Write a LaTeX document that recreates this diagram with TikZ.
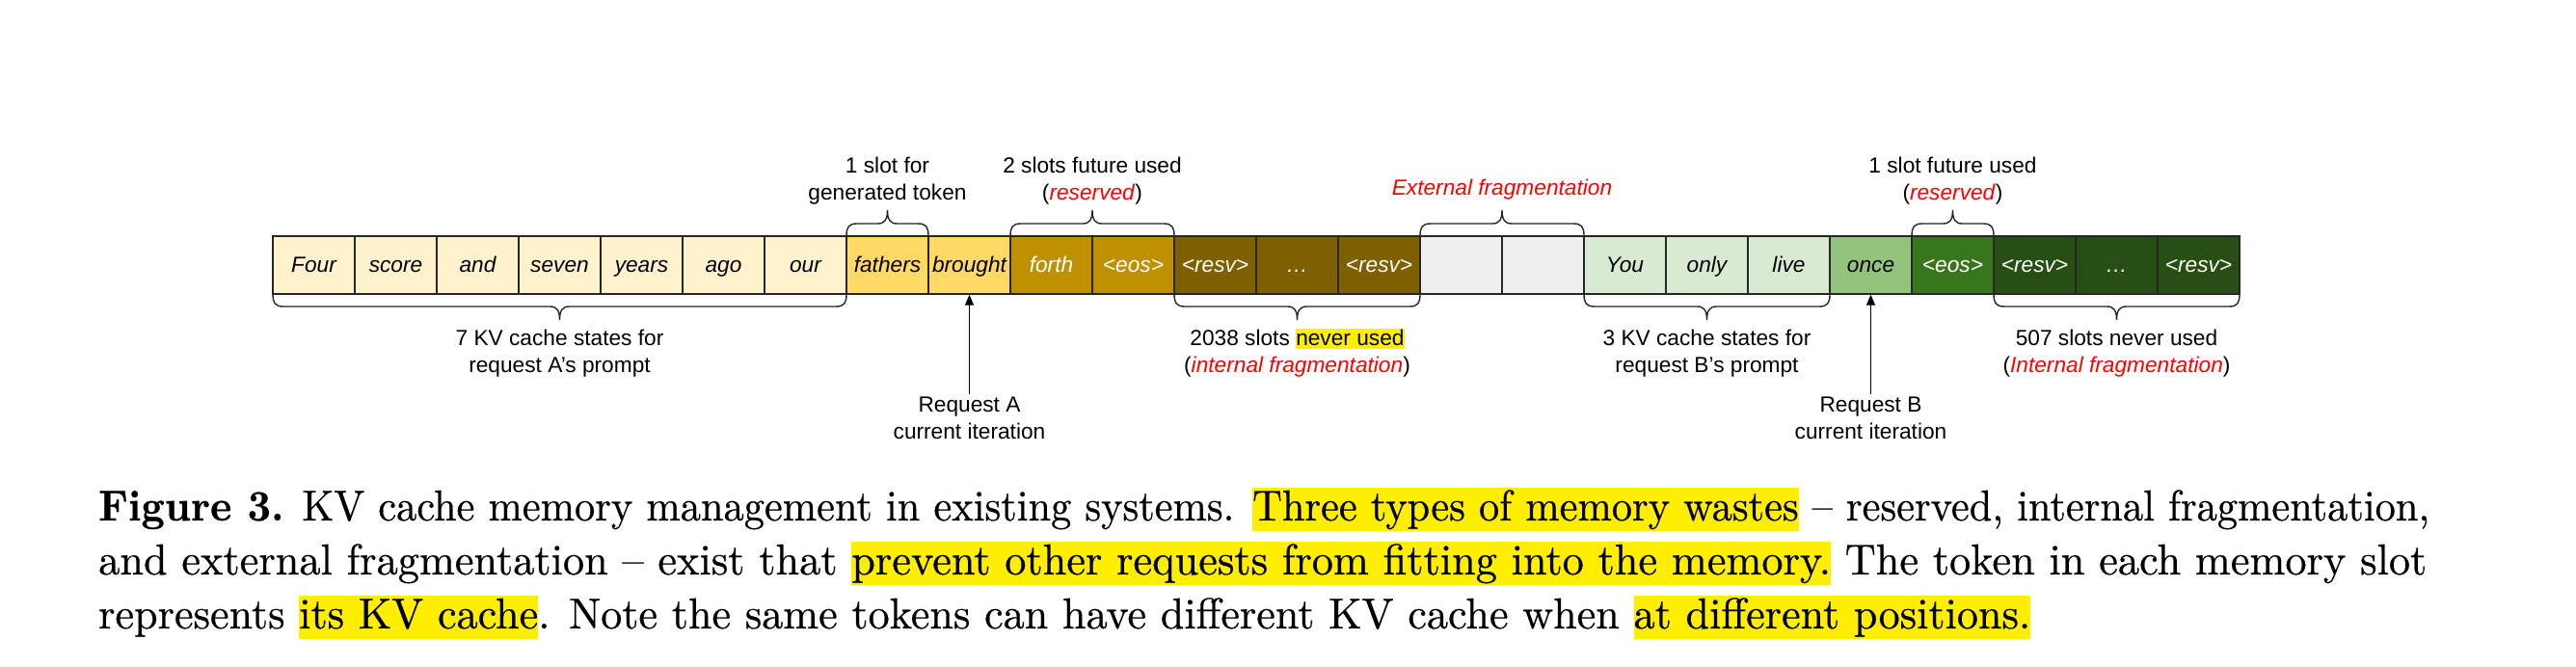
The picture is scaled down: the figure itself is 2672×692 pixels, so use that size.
\documentclass[tikz,border=0pt]{standalone}
\usepackage{fontspec}
\usepackage{graphicx}
\usetikzlibrary{arrows.meta}
\newfontfamily\arialf{Liberation Sans}
\newfontfamily\capf[FakeBold=0.5,BoldFont=lmroman10-bold.otf]{lmroman10-regular.otf}
\definecolor{pA}{HTML}{FFF2CC}
\definecolor{gA}{HTML}{FFD966}
\definecolor{rA}{HTML}{BF9000}
\definecolor{iA}{HTML}{7F6000}
\definecolor{ext}{HTML}{EFEFEF}
\definecolor{pB}{HTML}{D9EAD3}
\definecolor{gB}{HTML}{93C47D}
\definecolor{rB}{HTML}{38761D}
\definecolor{iB}{HTML}{274E13}
\definecolor{redtxt}{HTML}{FF0000}
\definecolor{hly}{HTML}{FFEE00}
\definecolor{edge}{HTML}{262626}
\newcommand\hlsm[1]{{\setlength\fboxsep{0pt}\colorbox{hly}{\rule[-3pt]{0pt}{21pt}#1}}}
\newcommand\hlcap[1]{{\setlength\fboxsep{0pt}\colorbox{hly}{\rule[-10.5pt]{0pt}{44.5pt}#1}}}
\newcommand\rdi[1]{\textcolor{redtxt}{\textit{#1}}}
\newcommand\twol[2]{\begin{tabular}[t]{@{}c@{}}#1\\#2\end{tabular}}
% brace above cells, from x1 to x2, base at box top (245)
\newcommand\upbr[2]{\draw[brc] (#1,245) .. controls (#1,236) and ({#1+2},232) .. ({#1+11},232) -- ({(#1+#2)/2-10},232) .. controls ({(#1+#2)/2-3},232) and ({(#1+#2)/2},228) .. ({(#1+#2)/2},218) .. controls ({(#1+#2)/2},228) and ({(#1+#2)/2+3},232) .. ({(#1+#2)/2+10},232) -- ({#2-11},232) .. controls ({#2-2},232) and (#2,236) .. (#2,245);}
% brace below cells, base at box bottom (305)
\newcommand\dnbr[2]{\draw[brc] (#1,305) .. controls (#1,314) and ({#1+2},318) .. ({#1+11},318) -- ({(#1+#2)/2-10},318) .. controls ({(#1+#2)/2-3},318) and ({(#1+#2)/2},322) .. ({(#1+#2)/2},332) .. controls ({(#1+#2)/2},322) and ({(#1+#2)/2+3},318) .. ({(#1+#2)/2+10},318) -- ({#2-11},318) .. controls ({#2-2},318) and (#2,314) .. (#2,305);}
\begin{document}
\begin{tikzpicture}[x=1pt,y=-1pt,
  cell/.style={draw=edge, line width=1.4pt, minimum width=85pt, minimum height=60pt, inner sep=0pt, text height=16pt, text depth=0pt, font={\arialf\fontsize{22.7}{27.5}\selectfont\itshape}},
  wcell/.style={cell, text=white},
  lbl/.style={inner sep=0pt, anchor=base, font={\arialf\fontsize{22.7}{27.5}\selectfont}},
  brc/.style={draw=edge, line width=1.4pt},
  reqarrow/.style={draw=black, line width=1.4pt, -{Triangle[width=9pt,length=11pt]}},
  capline/.style={inner sep=0pt, anchor=base west, font={\capf\fontsize{45}{56}\selectfont}}]
\fill[white] (0,0) rectangle (2672,692);
\useasboundingbox (0,0) rectangle (2672,692);
% cells
\node[cell, fill=pA] (c0) at (325.5,275) {Four};
\node[cell, fill=pA] (c1) at (410.5,275) {score};
\node[cell, fill=pA] (c2) at (495.5,275) {and};
\node[cell, fill=pA] (c3) at (580.5,275) {seven};
\node[cell, fill=pA] (c4) at (665.5,275) {years};
\node[cell, fill=pA] (c5) at (750.5,275) {ago};
\node[cell, fill=pA] (c6) at (835.5,275) {our};
\node[cell, fill=gA] (c7) at (920.5,275) {fathers};
\node[cell, fill=gA] (c8) at (1005.5,275) {brought};
\node[wcell, fill=rA] (c9) at (1090.5,275) {forth};
\node[wcell, fill=rA] (c10) at (1175.5,275) {<eos>};
\node[wcell, fill=iA] (c11) at (1260.5,275) {<resv>};
\node[wcell, fill=iA] (c12) at (1345.5,275) {…};
\node[wcell, fill=iA] (c13) at (1430.5,275) {<resv>};
\node[cell, fill=ext] (c14) at (1515.5,275) {};
\node[cell, fill=ext] (c15) at (1600.5,275) {};
\node[cell, fill=pB] (c16) at (1685.5,275) {You};
\node[cell, fill=pB] (c17) at (1770.5,275) {only};
\node[cell, fill=pB] (c18) at (1855.5,275) {live};
\node[cell, fill=gB] (c19) at (1940.5,275) {once};
\node[wcell, fill=rB] (c20) at (2025.5,275) {<eos>};
\node[wcell, fill=iB] (c21) at (2110.5,275) {<resv>};
\node[wcell, fill=iB] (c22) at (2195.5,275) {…};
\node[wcell, fill=iB] (c23) at (2280.5,275) {<resv>};
% braces
\upbr{878}{963}
\upbr{1048}{1218}
\upbr{1473}{1643}
\upbr{1983}{2068}
\dnbr{283}{878}
\dnbr{1218}{1473}
\dnbr{1643}{1898}
\dnbr{2068}{2323}
% labels above
\node[lbl] (tGen) at (920.5,180) {\twol{1 slot for}{generated token}};
\node[lbl] (tResA) at (1133,180) {\twol{2 slots future used}{(\rdi{reserved})}};
\node[lbl, text=redtxt, font={\arialf\fontsize{22.7}{27.5}\selectfont\itshape}] (tExt) at (1558,203) {External fragmentation};
\node[lbl] (tResB) at (2025.5,180) {\twol{1 slot future used}{(\rdi{reserved})}};
% labels below
\node[lbl] (bPA) at (580.5,359) {\twol{7 KV cache states for}{request A’s prompt}};
\node[lbl] (bIA) at (1345.5,359) {\twol{2038 slots \hlsm{never used}}{(\rdi{internal fragmentation})}};
\node[lbl] (bPB) at (1770.5,359) {\twol{3 KV cache states for}{request B’s prompt}};
\node[lbl] (bIB) at (2195.5,359) {\twol{507 slots never used}{(\rdi{Internal fragmentation})}};
\node[lbl] (reqA) at (1005.5,428) {\twol{Request A}{current iteration}};
\node[lbl] (reqB) at (1940.5,428) {\twol{Request B}{current iteration}};
\draw[reqarrow] (reqA.north) -- (c8.south);
\draw[reqarrow] (reqB.north) -- (c19.south);
% caption
\node[capline] (cap1) at (102,540) {\resizebox{2418pt}{\height}{\textbf{Figure 3.} KV cache memory management in existing systems. \hlcap{Three types of memory wastes} – reserved, internal fragmentation,}};
\node[capline] (cap2) at (102,596) {\resizebox{2415pt}{\height}{and external fragmentation – exist that \hlcap{prevent other requests from fitting into the memory.} The token in each memory slot}};
\node[capline] (cap3) at (102,652) {\resizebox{2004pt}{\height}{represents \hlcap{its KV cache}. Note the same tokens can have different KV cache when \hlcap{at different positions.}}};
\end{tikzpicture}
\end{document}
